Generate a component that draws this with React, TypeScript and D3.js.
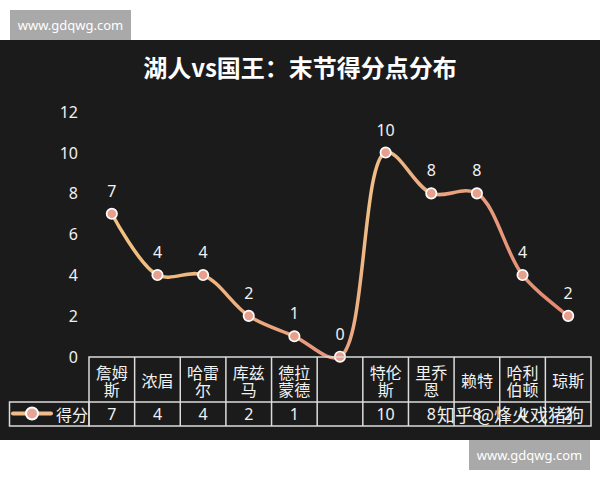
import { useEffect } from 'react';
import * as d3 from 'd3';

const PLAYERS = ['詹姆斯', '浓眉', '哈雷尔', '库兹马', '德拉蒙德', '', '特伦斯', '里乔恩', '赖特', '哈利伯顿', '琼斯'];
const POINTS = [7, 4, 4, 2, 1, 0, 10, 8, 8, 4, 2];
const Y_TICKS = [0, 2, 4, 6, 8, 10, 12];
const TITLE = '湖人vs国王：末节得分点分布';
const SERIES_NAME = '得分';

const CJK = '"Noto Sans CJK SC", "Noto Sans", sans-serif';
const NUM = '"Noto Sans", "Open Sans", sans-serif';
const GRID = '#dcdcdc';

const W = 600;
const H = 480;

// split a name into 2-char lines, as the table cell wraps it
const wrap = (s: string) => (s.length <= 2 ? [s] : [s.slice(0, 2), s.slice(2)]);

export default function App() {
  useEffect(() => {
    document.body.style.margin = '0';
  }, []);

  const x = d3.scaleBand<number>().domain(d3.range(PLAYERS.length)).range([89, 591]).padding(0);
  const y = d3.scaleLinear().domain([0, 12]).range([356.7, 111.7]);
  const cx = (i: number) => (x(i) ?? 0) + x.bandwidth() / 2;

  const line = d3.line<number>()
    .x((_, i) => cx(i))
    .y(d => y(d))
    .curve(d3.curveCatmullRom.alpha(0.5));

  const tableTop = 357;
  const rowMid = 402;
  const tableBottom = 426;

  return (
    <svg width={W} height={H} style={{ display: 'block', background: '#fff' }}>
      <defs>
        <linearGradient id="lineGrad" x1={89} x2={591} y1={0} y2={0} gradientUnits="userSpaceOnUse">
          <stop offset="0" stopColor="#f3c580" />
          <stop offset="0.3" stopColor="#eeb07f" />
          <stop offset="0.48" stopColor="#e8937c" />
          <stop offset="0.56" stopColor="#f0bf86" />
          <stop offset="0.7" stopColor="#eaa680" />
          <stop offset="1" stopColor="#e3826f" />
        </linearGradient>
      </defs>

      {/* watermarks */}
      <rect x={10} y={10} width={121} height={30} fill="#a9a9a9" />
      <text x={70.5} y={25} textAnchor="middle" dominantBaseline="central" fill="#fff" fontSize={13} fontFamily={NUM}>www.gdqwg.com</text>

      <rect x={0} y={40} width={W} height={400} fill="#1b1b1b" />

      <text x={W / 2} y={66} textAnchor="middle" dominantBaseline="central" fill="#fff" fontSize={24} fontWeight={700} fontFamily={CJK}>{TITLE}</text>

      {Y_TICKS.map(t => (
        <text key={t} x={78} y={y(t)} textAnchor="end" dominantBaseline="central" fill="#f0f0f0" fontSize={16} fontFamily={NUM}>{t}</text>
      ))}

      <path d={line(POINTS) ?? ''} fill="none" stroke="url(#lineGrad)" strokeWidth={3.5} strokeLinecap="round" />

      {POINTS.map((v, i) => (
        <g key={i}>
          <circle cx={cx(i)} cy={y(v)} r={5.2} fill="#e8a08e" stroke="#fff" strokeWidth={1.7} />
          <text x={cx(i)} y={y(v) - 23} textAnchor="middle" dominantBaseline="central" fill="#f2f2f2" fontSize={16} fontFamily={NUM}>{v}</text>
        </g>
      ))}

      {/* data table */}
      <g stroke={GRID} strokeWidth={1.5} fill="none">
        <rect x={89} y={tableTop} width={591 - 89} height={tableBottom - tableTop} />
        <rect x={9.5} y={rowMid} width={89 - 9.5} height={tableBottom - rowMid} />
        <line x1={89} x2={591} y1={rowMid} y2={rowMid} />
        {PLAYERS.slice(1).map((_, i) => (
          <line key={i} x1={x(i + 1)} x2={x(i + 1)} y1={tableTop} y2={tableBottom} />
        ))}
      </g>

      {PLAYERS.map((name, i) => {
        const lines = wrap(name);
        return (
          <text key={i} textAnchor="middle" fill="#f2f2f2" fontSize={16} fontFamily={CJK}>
            {lines.map((l, j) => (
              <tspan key={j} x={cx(i)} y={(lines.length === 1 ? 380 : 371.5 + j * 17.5)} dominantBaseline="central">{l}</tspan>
            ))}
          </text>
        );
      })}

      {POINTS.map((v, i) => PLAYERS[i] ? (
        <text key={i} x={cx(i)} y={414} textAnchor="middle" dominantBaseline="central" fill="#f2f2f2" fontSize={16} fontFamily={NUM}>{v}</text>
      ) : null)}

      {/* legend key inside the table */}
      <line x1={13} x2={51} y1={413.5} y2={413.5} stroke="#f2bd8a" strokeWidth={4} strokeLinecap="round" />
      <circle cx={32} cy={413.5} r={6} fill="#e8a495" stroke="#fff" strokeWidth={2} />
      <text x={56} y={414} dominantBaseline="central" fill="#f2f2f2" fontSize={16} fontFamily={CJK}>{SERIES_NAME}</text>

      {/* overlaid source watermark */}
      <text x={437} y={414} dominantBaseline="central" fill="#fff" fontSize={18} fontFamily={CJK} opacity={0.92}>知乎 @烽火戏猪狗</text>

      <rect x={469} y={440} width={121} height={30} fill="#a9a9a9" />
      <text x={529.5} y={455} textAnchor="middle" dominantBaseline="central" fill="#fff" fontSize={13} fontFamily={NUM}>www.gdqwg.com</text>
    </svg>
  );
}
